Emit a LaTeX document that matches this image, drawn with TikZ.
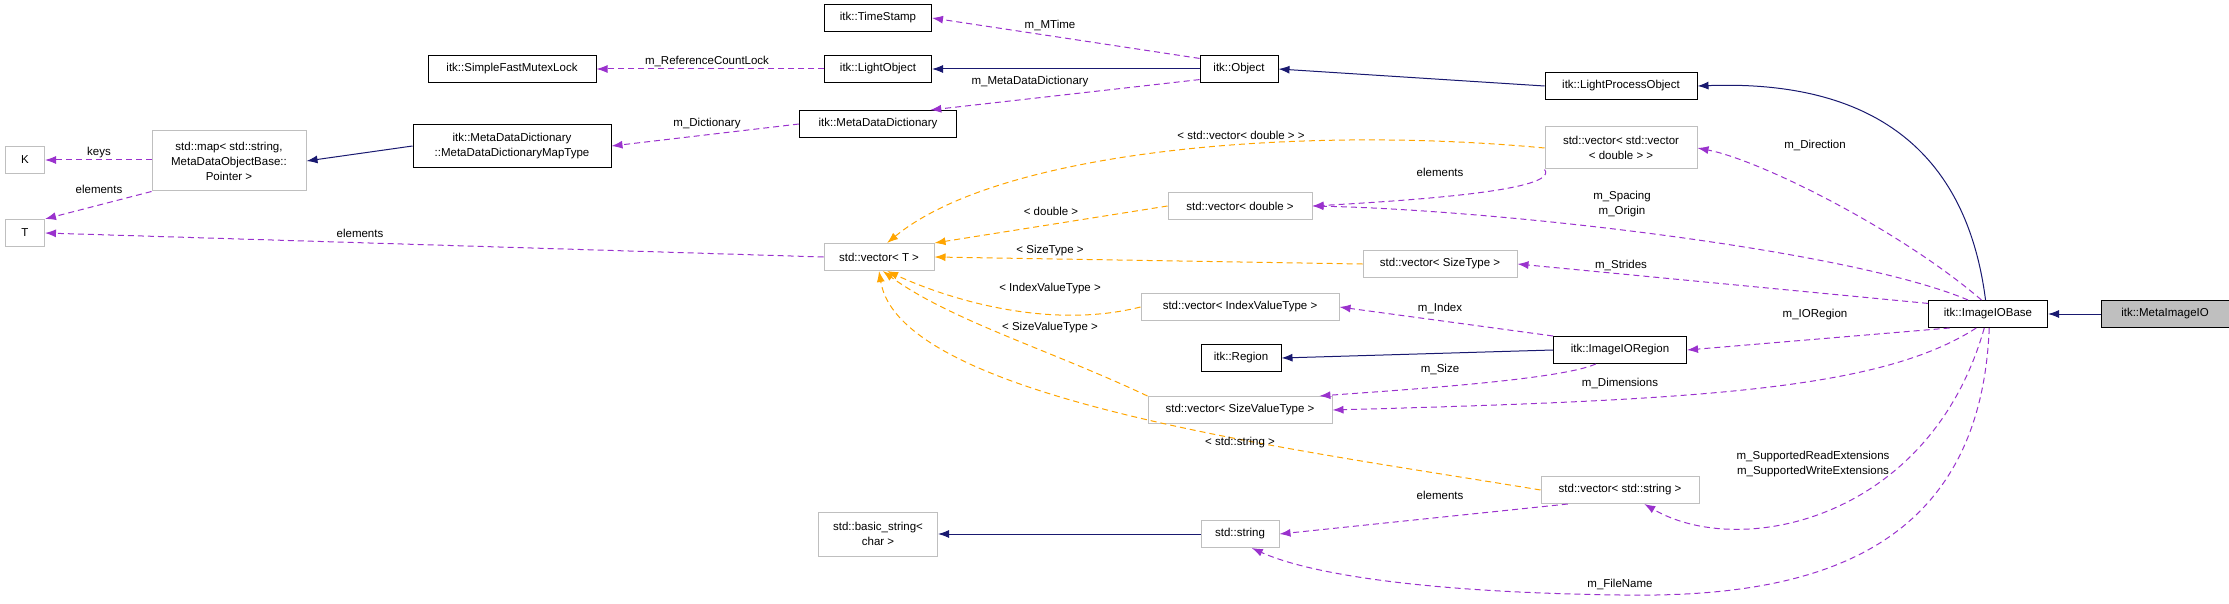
\documentclass[tikz,border=0pt]{standalone}
\usepackage{fontspec}
\setmainfont{Liberation Sans}
\usetikzlibrary{arrows.meta}
\definecolor{inhcol}{HTML}{191970}
\definecolor{usecol}{HTML}{9A32CD}
\definecolor{tplcol}{HTML}{FFA500}
\definecolor{grayline}{HTML}{BFBFBF}
\tikzset{
  box/.style={draw=black, line width=1pt, fill=white, minimum height=27pt, inner sep=1pt, align=center, font=\fontsize{11.5}{15}\selectfont},
  gbox/.style={box, draw=grayline},
  lbl/.style={font=\fontsize{11.5}{15}\selectfont, align=center, inner sep=0pt},
  tip/.style={-{Latex[length=11pt,width=8pt]}},
  inh/.style={tip, color=inhcol, line width=1pt},
  use/.style={tip, color=usecol, line width=1pt, dash pattern=on 6pt off 4pt},
  tpl/.style={tip, color=tplcol, line width=1pt, dash pattern=on 6pt off 4pt}
}
\begin{document}
\begin{tikzpicture}[x=1pt,y=-1pt]
  \useasboundingbox (0,0) rectangle (2229,604);
  % upper classes
  \node [box, minimum width=107pt] (ts) at (878,18) {itk::TimeStamp};
  \node [box, minimum width=168pt] (sfml) at (512,69) {itk::SimpleFastMutexLock};
  \node [box, minimum width=107pt] (lo) at (878,69) {itk::LightObject};
  \node [box, minimum width=157pt] (mdd) at (878,124) {itk::MetaDataDictionary};
  \node [box, minimum width=198pt, minimum height=43pt] (mapT) at (512,146) {itk::MetaDataDictionary\\::MetaDataDictionaryMapType};
  \node [gbox, minimum width=154pt, minimum height=60pt] (map) at (229,161) {std::map< std::string,\\ MetaDataObjectBase::\\Pointer >};
  \node [gbox, minimum width=39pt] (K) at (25,160) {K};
  \node [gbox, minimum width=39pt] (T) at (25,233) {T};
  \node [gbox, minimum width=110pt] (vecT) at (879,257) {std::vector< T >};
  \node [box, minimum width=78pt] (obj) at (1239,69) {itk::Object};
  \node [box, minimum width=152pt] (lpo) at (1621,86) {itk::LightProcessObject};
  \node [gbox, minimum width=152pt, minimum height=42pt] (vvd) at (1621,148) {std::vector< std::vector\\< double > >};
  \node [gbox, minimum width=144pt] (vd) at (1240,206) {std::vector< double >};
  \node [gbox, minimum width=154pt] (vst) at (1440,264) {std::vector< SizeType >};
  \node [gbox, minimum width=198pt] (viv) at (1240,307) {std::vector< IndexValueType >};
  % lower classes
  \node [box, minimum width=119pt] (iob) at (1988,314) {itk::ImageIOBase};
  \node [box, minimum width=128pt, fill=grayline] (mio) at (2165,314) {itk::MetaImageIO};
  \node [box, minimum width=133pt] (iorr) at (1620,350) {itk::ImageIORegion};
  \node [box, minimum width=80pt] (reg) at (1241,358) {itk::Region};
  \node [gbox, minimum width=184pt] (vsv) at (1240,410) {std::vector< SizeValueType >};
  \node [gbox, minimum width=158pt] (vs) at (1620,490) {std::vector< std::string >};
  \node [gbox, minimum width=78pt] (str) at (1240,534) {std::string};
  \node [gbox, minimum width=119pt, minimum height=44pt] (bstr) at (878,534) {std::basic\_string<\\ char >};
  % inheritance
  \draw [inh] (mio) -- (iob);
  \draw [inh] (iob.100) .. controls (1965,140) and (1860,80) .. (lpo.east);
  \draw [inh] (lpo.west) -- (obj.east);
  \draw [inh] (obj.west) -- (lo.east);
  \draw [inh] (mapT.west) -- (map.east);
  \draw [inh] (iorr.west) -- (reg.east);
  \draw [inh] (str.west) -- (bstr.east);
  % members
  \draw [use] (obj.165) -- (ts.east);
  \draw [use] (obj.195) -- (mdd.15);
  \draw [use] (lo.west) -- (sfml.east);
  \draw [use] (mdd.west) -- (mapT.east);
  \draw [use] (map.west |- K) -- (K.east);
  \draw [use] (map.south west) -- (T.north east);
  \draw [use] (vecT.west) -- (T.east);
  \draw [use] (vvd.south west) .. controls (1560,190) and (1420,200) .. (vd.east);
  \draw [use] (iob.115) .. controls (1900,230) and (1760,160) .. (vvd.east);
  \draw [use] (iob.145) .. controls (1850,250) and (1500,210) .. (vd.east);
  \draw [use] (iob.170) -- (vst.east);
  \draw [use] (iob.200) -- (iorr.east);
  \draw [use] (iob.230) .. controls (1880,390) and (1700,400) .. (vsv.east);
  \draw [use] (iob.-105) .. controls (1930,520) and (1740,560) .. (vs.-30);
  \draw [use] (iob.-85) .. controls (1980,560) and (1800,598) .. (1620,595)
    .. controls (1400,592) and (1300,570) .. (str.-50);
  \draw [use] (iorr.north west) -- (viv.east);
  \draw [use] (iorr.-150) .. controls (1560,380) and (1400,390) .. (vsv.10);
  \draw [use] (vs.195) -- (str.east);
  % template arguments
  \draw [tpl] (vvd.west) .. controls (1300,125) and (1000,150) .. (vecT.60);
  \draw [tpl] (vd.west) -- (vecT.north east);
  \draw [tpl] (vst.west) -- (vecT.east);
  \draw [tpl] (viv.west) .. controls (1050,330) and (950,300) .. (vecT.-60);
  \draw [tpl] (vsv.north west) .. controls (1050,350) and (950,320) .. (vecT.-75);
  \draw [tpl] (vs.west) .. controls (1300,450) and (900,400) .. (vecT.-90);
  % edge labels
  \node [lbl] (l1) at (1050,25) {m\_MTime};
  \node [lbl] (l2) at (1030,82) {m\_MetaDataDictionary};
  \node [lbl] (l3) at (707,61) {m\_ReferenceCountLock};
  \node [lbl] (l4) at (707,124) {m\_Dictionary};
  \node [lbl] (l5) at (99,153) {keys};
  \node [lbl] (l6) at (99,189) {elements};
  \node [lbl] (l7) at (360,233) {elements};
  \node [lbl] (l8) at (1241,135) {< std::vector< double > >};
  \node [lbl] (l9) at (1815,145) {m\_Direction};
  \node [lbl] (l10) at (1440,172) {elements};
  \node [lbl] (l11) at (1622,204) {m\_Spacing\\m\_Origin};
  \node [lbl] (l12) at (1051,211) {< double >};
  \node [lbl] (l13) at (1050,251) {< SizeType >};
  \node [lbl] (l14) at (1621,265) {m\_Strides};
  \node [lbl] (l15) at (1050,289) {< IndexValueType >};
  \node [lbl] (l16) at (1440,308) {m\_Index};
  \node [lbl] (l17) at (1815,315) {m\_IORegion};
  \node [lbl] (l18) at (1050,328) {< SizeValueType >};
  \node [lbl] (l19) at (1440,369) {m\_Size};
  \node [lbl] (l20) at (1620,383) {m\_Dimensions};
  \node [lbl] (l21) at (1240,443) {< std::string >};
  \node [lbl] (l22) at (1813,464) {m\_SupportedReadExtensions\\m\_SupportedWriteExtensions};
  \node [lbl] (l23) at (1440,495) {elements};
  \node [lbl] (l24) at (1620,584) {m\_FileName};
\end{tikzpicture}
\end{document}
